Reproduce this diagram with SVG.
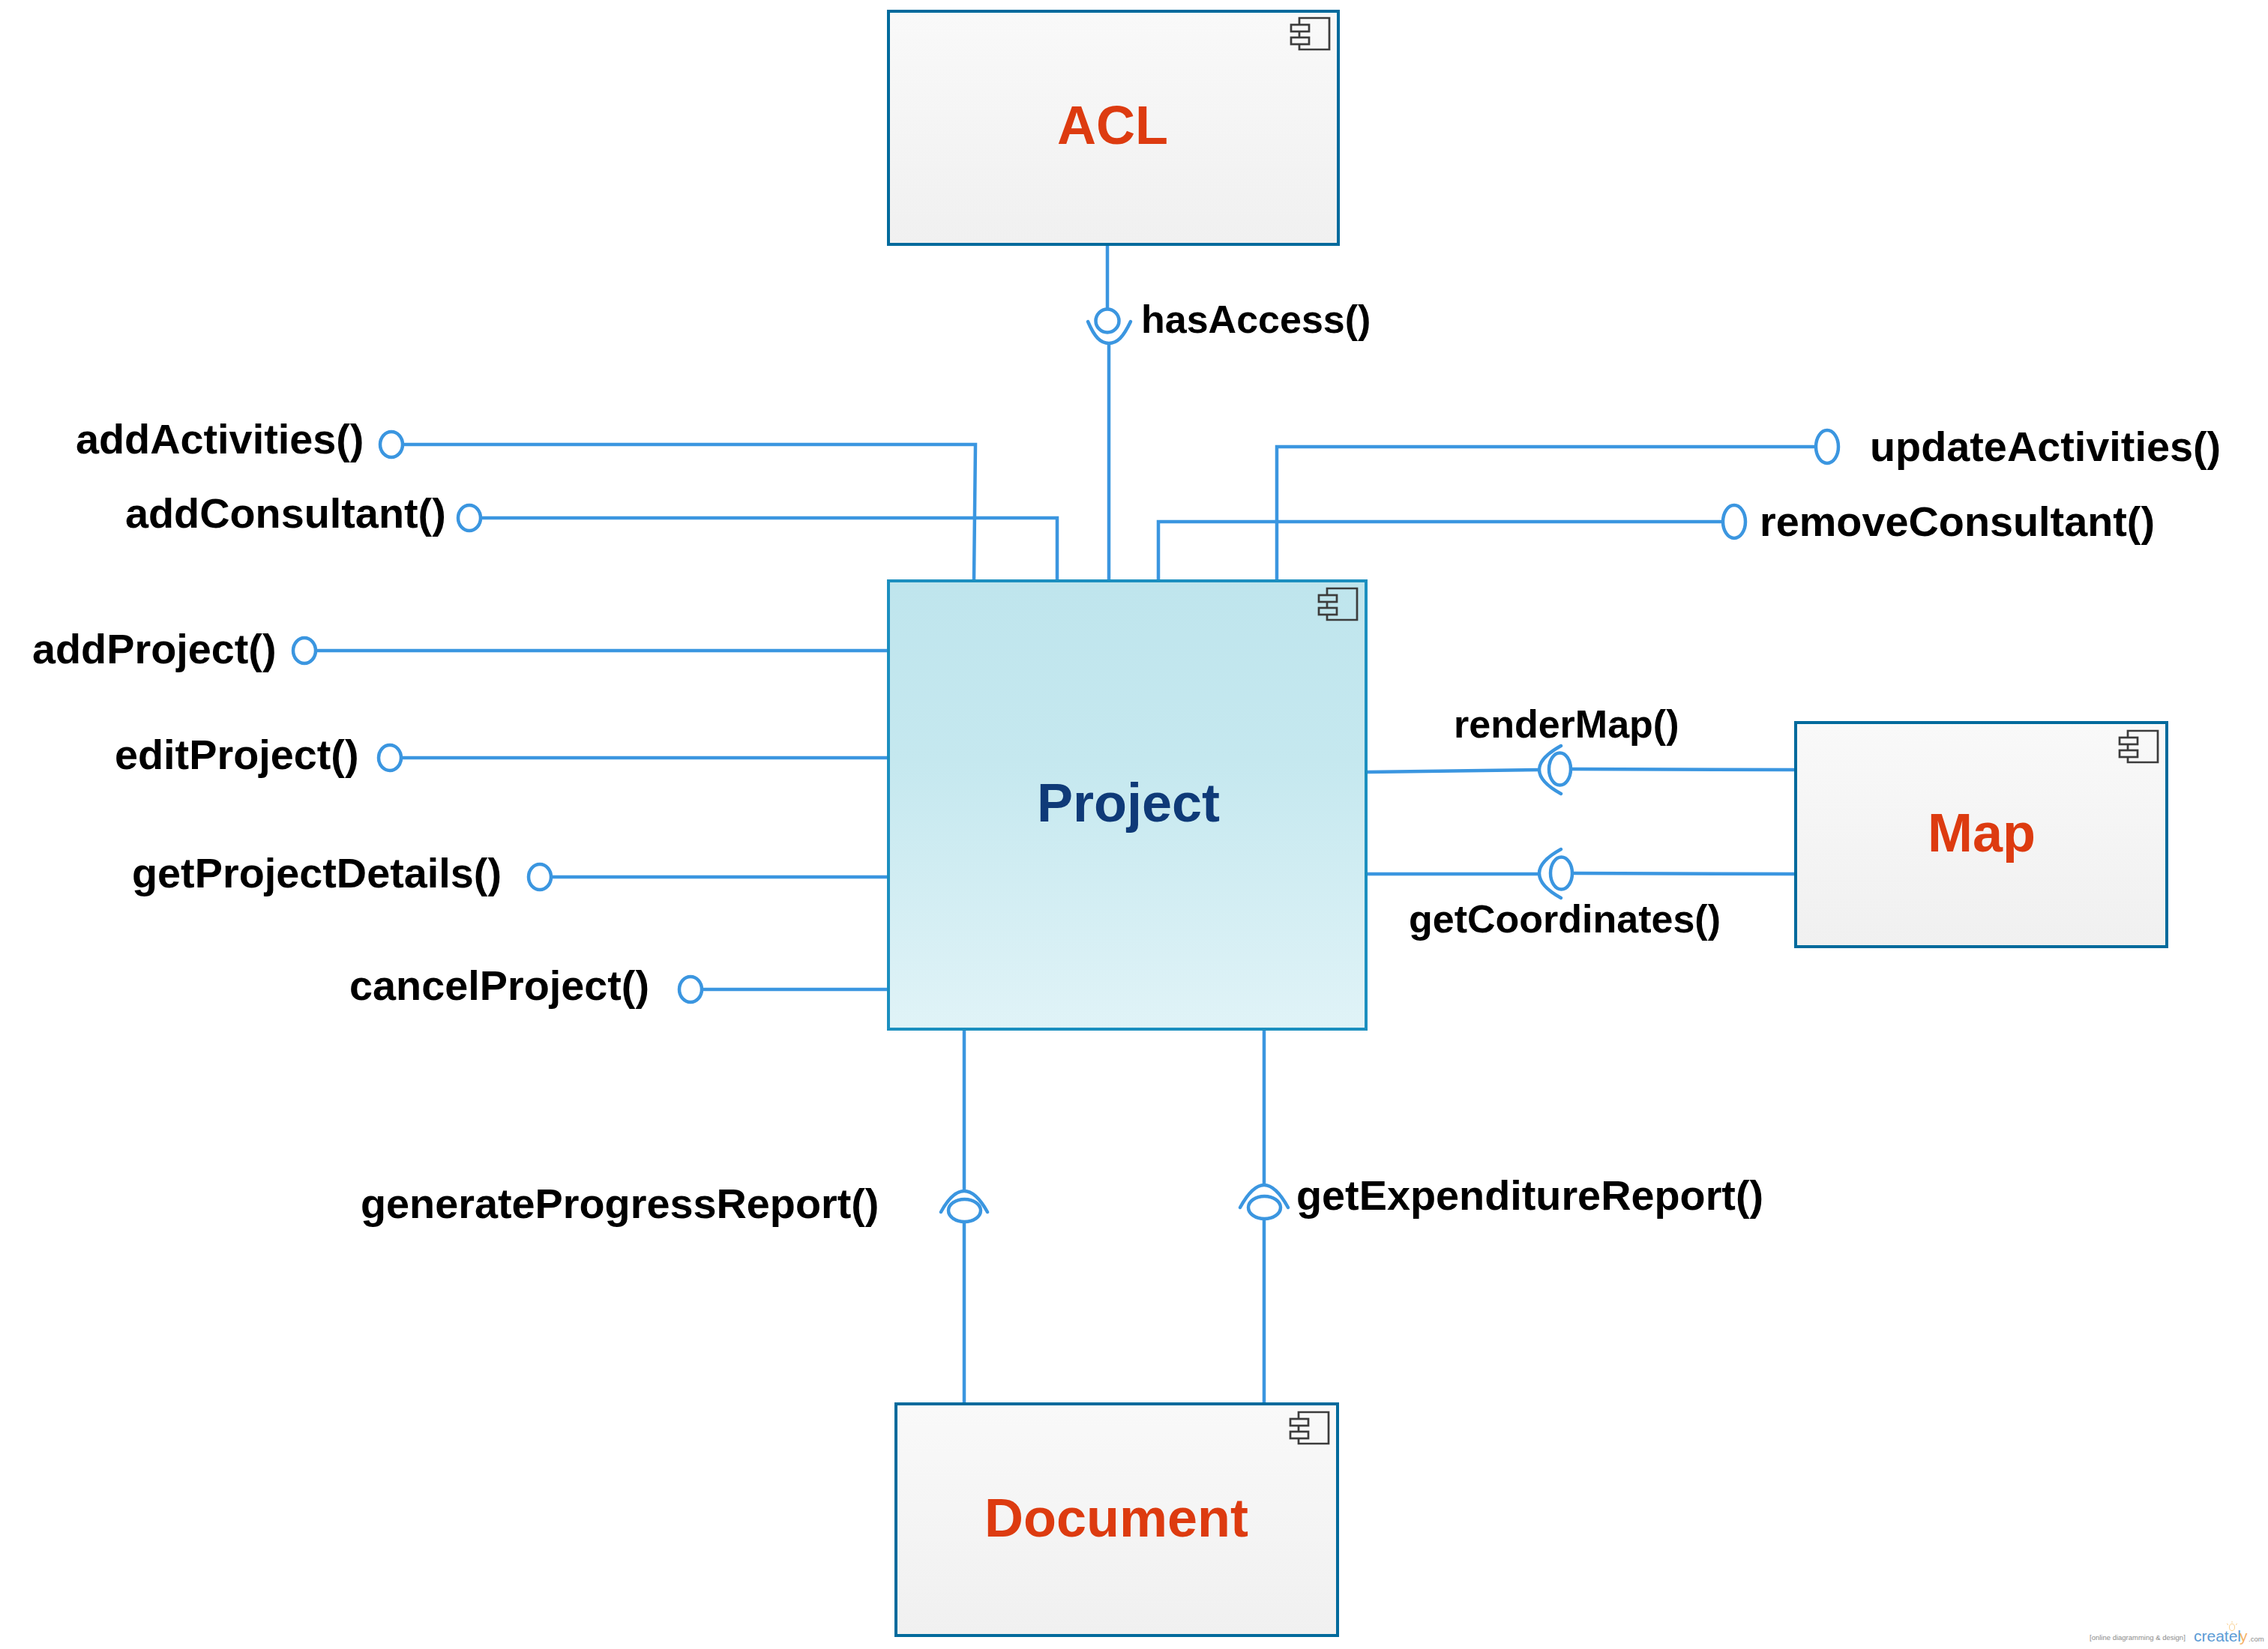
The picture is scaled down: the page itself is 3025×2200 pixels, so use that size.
<svg xmlns="http://www.w3.org/2000/svg" width="3025" height="2200" viewBox="0 0 3025 2200">
<style>
text{font-family:"Liberation Sans",Arial,sans-serif;font-weight:bold}
.lbl{font-size:55.8px;fill:#000}
.sm{font-size:52px}
.ttl{font-size:72px;fill:#dd3b10;text-anchor:middle}
.box{stroke:#006a9c;stroke-width:4;fill:url(#grey)}
.c{fill:none;stroke:#3b96e0;stroke-width:4.5;stroke-linecap:round}
.l{fill:none;stroke:#3b96e0;stroke-width:4.5}
.ic{fill:none;stroke:#3c3c3c;stroke-width:2.7}
</style>
<defs>
<linearGradient id="grey" x1="0" y1="0" x2="0" y2="1"><stop offset="0" stop-color="#f9f9f9"/><stop offset="1" stop-color="#f0f0f0"/></linearGradient>
<linearGradient id="blue" x1="0" y1="0" x2="0" y2="1"><stop offset="0" stop-color="#bfe5ed"/><stop offset="0.4" stop-color="#c5e8ef"/><stop offset="1" stop-color="#e0f3f7"/></linearGradient>
<g id="icon"><path class="ic" d="M0 9V0H40V42H0V35M0 18V26"/><rect class="ic" x="-11" y="9" width="24" height="9"/><rect class="ic" x="-11" y="26" width="24" height="9"/></g>
</defs>
<rect width="3025" height="2200" fill="#fff"/>
<g id="connectors">
<path class="l" d="M1477 326V412"/><path class="l" d="M1479 458V774"/>
<circle class="c" cx="1477" cy="428" r="15.5"/><path class="c" d="M1451 429C1460 450 1468 458 1479 458C1490 458 1498 450 1508 429"/>
<path class="l" d="M538 593H1301L1299 774"/><ellipse class="c" cx="522" cy="593" rx="15" ry="17"/>
<path class="l" d="M642 691H1410V774"/><ellipse class="c" cx="626" cy="691" rx="15" ry="17"/>
<path class="l" d="M423 868H1184"/><ellipse class="c" cx="406" cy="868" rx="15" ry="17"/>
<path class="l" d="M535 1011H1184"/><ellipse class="c" cx="520" cy="1011" rx="15" ry="17"/>
<path class="l" d="M736 1170H1184"/><ellipse class="c" cx="720" cy="1170" rx="15" ry="17"/>
<path class="l" d="M936 1320H1184"/><ellipse class="c" cx="921" cy="1320" rx="15" ry="17"/>
<path class="l" d="M1703 774V596H2421"/><ellipse class="c" cx="2437" cy="596" rx="15" ry="22"/>
<path class="l" d="M1545 774V696H2298"/><ellipse class="c" cx="2313" cy="696" rx="15" ry="22"/>
<path class="l" d="M1824 1030L2053 1027"/><path class="l" d="M2096 1026L2394 1027"/>
<ellipse class="c" cx="2080.5" cy="1026" rx="14.5" ry="21.5"/><path class="c" d="M2082 995C2062 1006 2053 1016 2053 1027C2053 1038 2062 1048 2082 1059"/>
<path class="l" d="M1824 1166H2053"/><path class="l" d="M2098 1165L2396 1166"/>
<ellipse class="c" cx="2082.5" cy="1165" rx="14.5" ry="21.5"/><path class="c" d="M2082 1133C2062 1144 2053 1154 2053 1165C2053 1176 2062 1187 2082 1198"/>
<path class="l" d="M1286 1373V1589"/><path class="l" d="M1286 1630V1875"/>
<ellipse class="c" cx="1286.5" cy="1615" rx="21.5" ry="15"/><path class="c" d="M1255 1617C1266 1597 1276 1589 1286 1589C1296 1589 1306 1597 1317 1617"/>
<path class="l" d="M1686 1373V1581"/><path class="l" d="M1686 1626V1875"/>
<ellipse class="c" cx="1686.5" cy="1611" rx="21.5" ry="15"/><path class="c" d="M1654 1611C1665 1591 1676 1581 1686 1581C1696 1581 1707 1591 1718 1611"/>
</g>
<g id="node-acl"><rect class="box" x="1185" y="15" width="600" height="311"/><use href="#icon" x="1733" y="24"/><text class="ttl" x="1484" y="192">ACL</text></g>
<g id="node-project"><rect class="box" style="fill:url(#blue);stroke:#1b8fbf" x="1185" y="775" width="637" height="598"/><use href="#icon" x="1770" y="785"/><text class="ttl" style="fill:#0f3a78" x="1505" y="1096">Project</text></g>
<g id="node-map"><rect class="box" x="2395" y="964" width="495" height="299"/><use href="#icon" x="2838" y="975"/><text class="ttl" x="2643" y="1136">Map</text></g>
<g id="node-document"><rect class="box" x="1195" y="1873" width="589" height="309"/><use href="#icon" x="1732" y="1884"/><text class="ttl" x="1489" y="2050">Document</text></g>
<g id="labels">
<text class="lbl sm" x="1522" y="444">hasAccess()</text>
<text class="lbl" x="101" y="605">addActivities()</text>
<text class="lbl" x="167" y="704">addConsultant()</text>
<text class="lbl" x="43" y="885">addProject()</text>
<text class="lbl" x="153" y="1026">editProject()</text>
<text class="lbl" x="176" y="1184">getProjectDetails()</text>
<text class="lbl" x="466" y="1334">cancelProject()</text>
<text class="lbl" x="2494" y="615">updateActivities()</text>
<text class="lbl" x="2347" y="715">removeConsultant()</text>
<text class="lbl sm" x="1939" y="984">renderMap()</text>
<text class="lbl sm" x="1879" y="1244">getCoordinates()</text>
<text class="lbl" x="481" y="1625">generateProgressReport()</text>
<text class="lbl" x="1729" y="1614">getExpenditureReport()</text>
</g>
<g id="watermark">
<text x="2787" y="2188" style="font-weight:normal;font-size:9.5px;fill:#8c8c8c">[online diagramming &amp; design]</text>
<text x="2926" y="2190" style="font-weight:normal;font-size:21px;fill:#5b9bd5">createl</text>
<text x="2987" y="2190" style="font-weight:normal;font-size:21px;fill:#f5b266">y</text>
<text x="2999" y="2190" style="font-weight:normal;font-size:9.5px;fill:#8c8c8c">.com</text>
<ellipse cx="2977" cy="2171" rx="3.5" ry="4.5" fill="none" stroke="#f9cf8e" stroke-width="1"/>
<path d="M2977 2163V2165M2970 2166L2972 2168M2984 2166L2982 2168" stroke="#f9cf8e" stroke-width="1" fill="none"/>
</g>
</svg>
